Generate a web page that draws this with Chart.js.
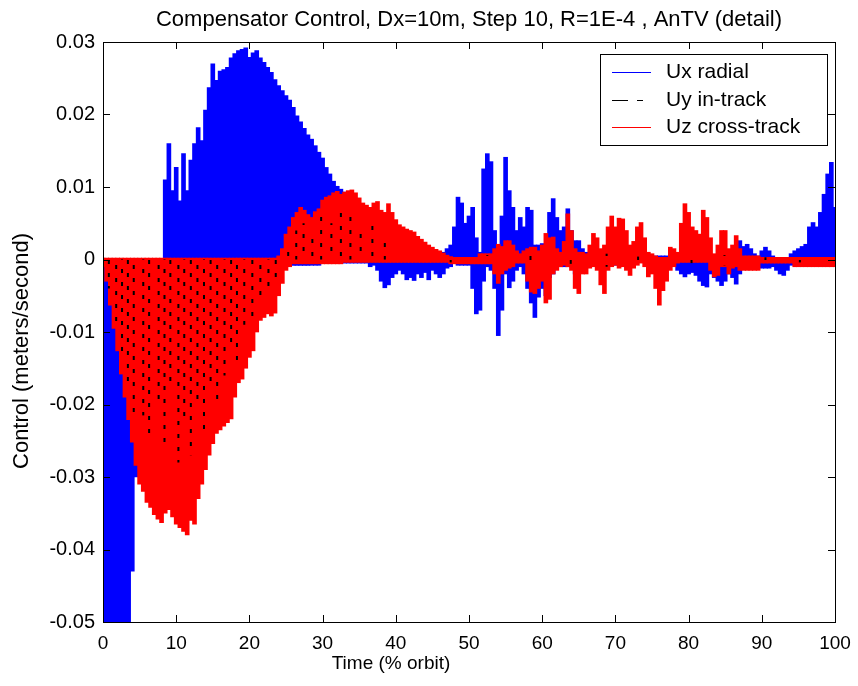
<!DOCTYPE html>
<html>
<head>
<meta charset="utf-8">
<title>Compensator Control</title>
<script src="https://cdn.jsdelivr.net/npm/chart.js@4.4.0/dist/chart.umd.min.js"></script>
<style>
  html, body { margin: 0; padding: 0; background: #fff; }
  #wrap { width: 858px; height: 686px; }
</style>
</head>
<body>
<div id="wrap"><canvas id="chart" width="858" height="686"></canvas></div>
<script>
// sample times, % orbit (one band every 0.5 %)
var times = [
  0, 0.5, 1, 1.5, 2, 2.5, 3, 3.5, 4, 4.5,
  5, 5.5, 6, 6.5, 7, 7.5, 8, 8.5, 9, 9.5,
  10, 10.5, 11, 11.5, 12, 12.5, 13, 13.5, 14, 14.5,
  15, 15.5, 16, 16.5, 17, 17.5, 18, 18.5, 19, 19.5,
  20, 20.5, 21, 21.5, 22, 22.5, 23, 23.5, 24, 24.5,
  25, 25.5, 26, 26.5, 27, 27.5, 28, 28.5, 29, 29.5,
  30, 30.5, 31, 31.5, 32, 32.5, 33, 33.5, 34, 34.5,
  35, 35.5, 36, 36.5, 37, 37.5, 38, 38.5, 39, 39.5,
  40, 40.5, 41, 41.5, 42, 42.5, 43, 43.5, 44, 44.5,
  45, 45.5, 46, 46.5, 47, 47.5, 48, 48.5, 49, 49.5,
  50, 50.5, 51, 51.5, 52, 52.5, 53, 53.5, 54, 54.5,
  55, 55.5, 56, 56.5, 57, 57.5, 58, 58.5, 59, 59.5,
  60, 60.5, 61, 61.5, 62, 62.5, 63, 63.5, 64, 64.5,
  65, 65.5, 66, 66.5, 67, 67.5, 68, 68.5, 69, 69.5,
  70, 70.5, 71, 71.5, 72, 72.5, 73, 73.5, 74, 74.5,
  75, 75.5, 76, 76.5, 77, 77.5, 78, 78.5, 79, 79.5,
  80, 80.5, 81, 81.5, 82, 82.5, 83, 83.5, 84, 84.5,
  85, 85.5, 86, 86.5, 87, 87.5, 88, 88.5, 89, 89.5,
  90, 90.5, 91, 91.5, 92, 92.5, 93, 93.5, 94, 94.5,
  95, 95.5, 96, 96.5, 97, 97.5, 98, 98.5, 99, 99.5,
  100
];

// Ux radial: upper / lower envelope of the oscillation (m/s)
var uxHi = [
  0, 0, 0, 0, 0, 0, 0, 0, 0, 0,
  0, 0, 0, 0, 0, 0, 0, 0.011, 0.016, 0.0095,
  0.0127, 0.0081, 0.0146, 0.0095, 0.0137, 0.016, 0.0182, 0.0164, 0.0206, 0.0237,
  0.027, 0.0247, 0.026, 0.0262, 0.0265, 0.0278, 0.0284, 0.0288, 0.029, 0.0292,
  0.0279, 0.0285, 0.0288, 0.0278, 0.0272, 0.0265, 0.0258, 0.0248, 0.024, 0.0233,
  0.0226, 0.022, 0.021, 0.0198, 0.019, 0.0181, 0.0172, 0.0166, 0.0157, 0.0148,
  0.014, 0.0127, 0.0118, 0.0108, 0.0101, 0.0097, 0.0093, 0.0085, 0.0075, 0.006,
  0.005, 0.004, 0.0035, 0.003, 0.0025, 0.002, 0.0015, 0.001, 0.0003, 0.0003,
  0.0003, 0.0003, 0.0003, 0.0003, 0.0003, 0.0003, 0.0003, 0.0003, 0.0003, 0.0003,
  0.0003, 0.0003, 0.0005, 0.001, 0.0015, 0.002, 0.0045, 0.0086, 0.0078, 0.005,
  0.006, 0.0072, 0.003, 0.001, 0.0125, 0.0146, 0.0135, 0.004, 0.002, 0.006,
  0.0141, 0.0095, 0.0072, 0.004, 0.0058, 0.0045, 0.0072, 0.0068, 0.002, 0.002,
  0.0022, 0.002, 0.0065, 0.0084, 0.0058, 0.004, 0.0045, 0.007, 0.004, 0.0026,
  0.0026, 0.0015, 0.001, 0.001, 0.0012, 0.0008, 0.0005, 0.0005, 0.0005, 0.0005,
  0.0005, 0.0003, 0.0003, 0.0003, 0.0003, 0.0003, 0.0003, 0.0003, 0.0003, 0.0003,
  0.0003, 0.0005, 0.0005, 0.0005, 0.0005, 0.0005, 0.0005, 0.0002, 0.0002, 0.0002,
  0.0002, 0.0002, 0.0002, 0.0002, 0.0002, 0.0002, 0.0002, 0.0002, 0.0002, 0.0002,
  0.0002, 0.0002, 0.0002, 0.0002, 0.0026, 0.0018, 0.0021, 0.0015, 0.0008, 0.0005,
  0.0012, 0.0017, 0.0012, 0.0005, 0.0003, 0.0003, 0.0003, 0.0003, 0.0008, 0.0012,
  0.0015, 0.0018, 0.0021, 0.0045, 0.0051, 0.0045, 0.0065, 0.009, 0.0118, 0.0134,
  0.0072
];
var uxLo = [
  -0.06, -0.06, -0.06, -0.06, -0.06, -0.06, -0.06, -0.06, -0.043, -0.03,
  -0.022, -0.02, -0.02, -0.018, -0.02, -0.018, -0.016, -0.015, -0.015, -0.014,
  -0.014, -0.013, -0.012, -0.012, -0.011, -0.01, -0.01, -0.009, -0.009, -0.008,
  -0.008, -0.007, -0.007, -0.006, -0.006, -0.005, -0.005, -0.005, -0.004, -0.004,
  -0.004, -0.003, -0.003, -0.003, -0.003, -0.003, -0.003, -0.003, -0.002, -0.001,
  -0.0008, -0.0008, -0.0008, -0.0008, -0.0008, -0.0008, -0.0008, -0.0008, -0.0008, -0.0008,
  -0.0005, -0.0005, -0.0005, -0.0005, -0.0005, -0.0005, -0.0005, -0.0005, -0.0005, -0.0005,
  -0.0005, -0.0005, -0.0005, -0.001, -0.0008, -0.0015, -0.003, -0.0039, -0.0035, -0.0025,
  -0.002, -0.0015, -0.002, -0.0028, -0.0025, -0.0029, -0.002, -0.0025, -0.0018, -0.0028,
  -0.0015, -0.002, -0.0025, -0.002, -0.0012, -0.001, -0.0005, -0.0008, -0.0008, -0.0008,
  -0.0008, -0.004, -0.0075, -0.007, -0.003, -0.001, -0.0015, -0.004, -0.0105, -0.007,
  -0.002, -0.0039, -0.003, -0.0015, -0.001, -0.002, -0.004, -0.006, -0.008, -0.0052,
  -0.004, -0.005, -0.0025, -0.002, -0.001, -0.001, -0.001, -0.001, -0.001, -0.002,
  -0.0015, -0.0008, -0.0008, -0.0008, -0.0008, -0.0008, -0.0008, -0.0008, -0.0008, -0.0008,
  -0.0008, -0.0004, -0.0004, -0.0004, -0.0004, -0.0004, -0.0004, -0.0004, -0.0004, -0.0004,
  -0.0004, -0.0004, -0.0004, -0.0004, -0.0004, -0.0004, -0.0004, -0.0015, -0.002, -0.0024,
  -0.002, -0.0018, -0.0022, -0.003, -0.0036, -0.0038, -0.002, -0.0025, -0.003, -0.0036,
  -0.003, -0.002, -0.0025, -0.0034, -0.002, -0.0012, -0.001, -0.001, -0.001, -0.0008,
  -0.0012, -0.0012, -0.0012, -0.001, -0.0015, -0.002, -0.0022, -0.0015, -0.0008, -0.0004,
  -0.0004, -0.0004, -0.0004, -0.0004, -0.0004, -0.0004, -0.0004, -0.0004, -0.0004, -0.0004,
  -0.0004
];

// Uz cross-track envelope
var uzHi = [
  0.0002, 0.0002, 0.0002, 0.0002, 0.0002, 0.0002, 0.0002, 0.0002, 0.0002, 0.0002,
  0.0002, 0.0002, 0.0002, 0.0002, 0.0002, 0.0002, 0.0002, 0.0002, 0.0002, 0.0002,
  0.0002, 0.0002, 0.0002, 0.0002, 0.0002, 0.0002, 0.0002, 0.0002, 0.0002, 0.0002,
  0.0002, 0.0002, 0.0002, 0.0002, 0.0002, 0.0002, 0.0002, 0.0002, 0.0002, 0.0002,
  0.0002, 0.0002, 0.0002, 0.0002, 0.0002, 0.0002, 0.0002, 0.0002, 0.0005, 0.0015,
  0.0035, 0.0045, 0.0058, 0.0065, 0.0072, 0.0068, 0.0062, 0.0058, 0.0066, 0.007,
  0.0082, 0.0086, 0.0088, 0.0092, 0.0094, 0.009, 0.0093, 0.0095, 0.0096, 0.0092,
  0.0085, 0.0078, 0.0075, 0.0072, 0.0078, 0.008, 0.0068, 0.0065, 0.0077, 0.0065,
  0.0055, 0.0048, 0.0045, 0.0042, 0.004, 0.0038, 0.0032, 0.0028, 0.0024, 0.002,
  0.0017, 0.0014, 0.0012, 0.0009, 0.0006, 0.0004, 0.0003, 0.0003, 0.0003, 0.0003,
  0.0003, 0.0003, 0.0003, 0.0008, 0.0008, 0.0008, 0.0008, 0.0015, 0.0021, 0.0018,
  0.0026, 0.0026, 0.002, 0.0012, 0.0008, 0.0012, 0.0015, 0.0017, 0.0017, 0.0012,
  0.002, 0.0036, 0.003, 0.0031, 0.0015, 0.001, 0.0025, 0.0063, 0.004, 0.0015,
  0.001, 0.001, 0.0008, 0.002, 0.0036, 0.003, 0.0015, 0.002, 0.0045, 0.006,
  0.0045, 0.0057, 0.0056, 0.004, 0.002, 0.0025, 0.0045, 0.0051, 0.003, 0.001,
  0.0008, 0.0005, 0.0003, 0.0003, 0.0003, 0.0017, 0.0015, 0.001, 0.005, 0.0077,
  0.0065, 0.0045, 0.004, 0.0035, 0.0068, 0.0058, 0.003, 0.0008, 0.002, 0.004,
  0.004, 0.0015, 0.002, 0.0033, 0.0015, 0.0005, 0.0005, 0.0005, 0.0005, 0.0005,
  0.0003, 0.0003, 0.0003, 0.0003, 0.0003, 0.0003, 0.0003, 0.0003, 0.0003, 0.0003,
  0.0003, 0.0003, 0.0003, 0.0003, 0.0003, 0.0003, 0.0003, 0.0003, 0.0003, 0.0003,
  0.0003
];
var uzLo = [
  -0.001, -0.003, -0.0063, -0.0095, -0.0126, -0.0158, -0.019, -0.0221, -0.0252, -0.0284,
  -0.031, -0.032, -0.0335, -0.0342, -0.0352, -0.0358, -0.0363, -0.035, -0.0345, -0.0355,
  -0.0365, -0.037, -0.0375, -0.038, -0.036, -0.0365, -0.033, -0.031, -0.029, -0.027,
  -0.0254, -0.024, -0.0235, -0.023, -0.0225, -0.022, -0.019, -0.017, -0.0165, -0.015,
  -0.0135, -0.0126, -0.01, -0.0084, -0.008, -0.0075, -0.0078, -0.0074, -0.005, -0.0033,
  -0.0015, -0.001, -0.0006, -0.0006, -0.0006, -0.0006, -0.0006, -0.0006, -0.0006, -0.0006,
  -0.0006, -0.0006, -0.0006, -0.0006, -0.0006, -0.0006, -0.0004, -0.0004, -0.0004, -0.0004,
  -0.0004, -0.0004, -0.0004, -0.0004, -0.0004, -0.0004, -0.0004, -0.0004, -0.0004, -0.0004,
  -0.0004, -0.0004, -0.0004, -0.0004, -0.0004, -0.0004, -0.0004, -0.0004, -0.0004, -0.0004,
  -0.0004, -0.0004, -0.0004, -0.0004, -0.0004, -0.0006, -0.0006, -0.0006, -0.0006, -0.0006,
  -0.0006, -0.0006, -0.0006, -0.0006, -0.0006, -0.0006, -0.0006, -0.002, -0.0033, -0.002,
  -0.0015, -0.0012, -0.001, -0.0005, -0.0005, -0.0005, -0.003, -0.0045, -0.0047, -0.004,
  -0.003, -0.006, -0.0055, -0.002, -0.0015, -0.001, -0.0008, -0.001, -0.0015, -0.004,
  -0.0047, -0.002, -0.002, -0.0012, -0.001, -0.0015, -0.0035, -0.0047, -0.0015, -0.001,
  -0.0008, -0.0012, -0.001, -0.0015, -0.0022, -0.0012, -0.0008, -0.0005, -0.001, -0.0024,
  -0.002, -0.004, -0.0063, -0.0043, -0.003, -0.0015, -0.001, -0.0005, -0.0004, -0.0004,
  -0.0004, -0.0004, -0.0004, -0.0004, -0.0004, -0.0004, -0.0015, -0.0024, -0.0022, -0.001,
  -0.001, -0.002, -0.0012, -0.001, -0.0015, -0.0015, -0.0015, -0.0015, -0.0015, -0.0015,
  -0.0005, -0.0005, -0.0005, -0.0005, -0.0005, -0.0005, -0.0005, -0.0005, -0.0005, -0.001,
  -0.001, -0.001, -0.001, -0.001, -0.001, -0.001, -0.001, -0.001, -0.001, -0.001,
  -0.001
];

// Uy in-track: only the strokes that show through the red
var uyTimes = [
  0.8, 1.8, 2.6, 3.4, 4.2, 5.5, 6.3, 7.6, 8.4, 9.2,
  10.3, 11.1, 12.0, 12.9, 13.8, 14.7, 15.6, 16.6, 17.5, 18.3,
  19.3, 20.4, 21.5, 22.6, 23.6, 25.3, 26.4, 27.4, 28.6, 29.8,
  31.2, 32.5, 33.8, 35.2, 36.8, 38.5, 47.5, 52.5, 58.4, 63.9,
  68.8, 73.1, 80.4, 84.9, 90.5, 95.2, 99.5
];
var uyLo = [
  -0.004, -0.009, -0.013, -0.017, -0.022, -0.0215, -0.024, -0.02, -0.026, -0.018,
  -0.028, -0.022, -0.027, -0.02, -0.024, -0.017, -0.02, -0.016, -0.012, -0.014,
  -0.009, -0.008, -0.005, -0.004, -0.003, 0, 0, 0, 0, 0,
  0, 0, 0, 0, 0, 0, -0.0004, -0.0005, -0.001, -0.0006,
  -0.001, -0.0004, -0.0005, -0.0008, -0.0003, -0.0004, -0.0005
];
var uyHi = [
  0, 0, 0, 0, 0, 0, 0, 0, 0, 0,
  0, 0, 0, 0, 0, 0, 0, 0, 0, 0,
  0, 0, 0, 0, 0, 0.002, 0.004, 0.005, 0.0035, 0.006,
  0.005, 0.0065, 0.006, 0.004, 0.005, 0.003, 0.0004, 0.0006, 0.0008, 0.0006,
  0.0008, 0.0004, 0.0006, 0.0006, 0.0003, 0.0003, 0.0003
];

var seriesNames = ["Ux radial", "Uy in-track", "Uz cross-track"];
var seriesColors = ["#0000ff", "#000000", "#ff0000"];
var titleText = "Compensator Control, Dx=10m, Step 10, R=1E-4 , AnTV (detail)";
var xLabel = "Time (% orbit)";
var yLabel = "Control (meters/second)";

var FONT = "'Liberation Sans', Arial, sans-serif";

function band(ts, lo, hi) {
  return ts.map(function (t, i) {
    return { x: t, y: [lo[i], hi[i]] };
  });
}

// vertical dash fill, to look like a dashed line swinging up and down
function dashPattern(color, shift) {
  var c = document.createElement("canvas");
  c.width = 2;
  c.height = 13;
  var g = c.getContext("2d");
  g.fillStyle = color;
  g.fillRect(0, shift, 2, 4);
  return g.createPattern(c, "repeat");
}
var uyFills = [dashPattern("#000", 0), dashPattern("#000", 5), dashPattern("#000", 9)];

var textPlugin = {
  id: "texts",
  afterDraw: function (chart) {
    var a = chart.chartArea;
    var ctx = chart.ctx;
    ctx.save();
    ctx.fillStyle = "#000";
    ctx.textAlign = "center";
    ctx.textBaseline = "middle";
    ctx.font = "22px " + FONT;
    ctx.fillText(titleText, (a.left + a.right) / 2, 20);
    ctx.font = "19px " + FONT;
    ctx.fillText(xLabel, 391, 664);
    ctx.translate(22, 351);
    ctx.rotate(-Math.PI / 2);
    ctx.font = "22px " + FONT;
    ctx.fillText(yLabel, 0, 0);
    ctx.restore();
  }
};

var framePlugin = {
  id: "frame",
  afterDatasetsDraw: function (chart) {
    var a = chart.chartArea;
    var ctx = chart.ctx;
    var xs = chart.scales.x;
    var ys = chart.scales.y;
    var L = 7;
    ctx.save();
    ctx.strokeStyle = "#000";
    ctx.lineWidth = 1;
    ctx.beginPath();
    xs.ticks.forEach(function (t) {
      var px = Math.round(xs.getPixelForValue(t.value)) + 0.5;
      ctx.moveTo(px, a.bottom);
      ctx.lineTo(px, a.bottom - L);
      ctx.moveTo(px, a.top);
      ctx.lineTo(px, a.top + L);
    });
    ys.ticks.forEach(function (t) {
      var py = Math.round(ys.getPixelForValue(t.value)) + 0.5;
      ctx.moveTo(a.left, py);
      ctx.lineTo(a.left + L, py);
      ctx.moveTo(a.right, py);
      ctx.lineTo(a.right - L, py);
    });
    ctx.stroke();
    ctx.strokeRect(Math.round(a.left) + 0.5, Math.round(a.top) + 0.5,
      Math.round(a.right - a.left), Math.round(a.bottom - a.top));
    ctx.restore();
  }
};

var legendPlugin = {
  id: "boxLegend",
  afterDraw: function (chart) {
    var a = chart.chartArea;
    var ctx = chart.ctx;
    var w = 227, h = 91;
    var x0 = Math.round(a.right) - 8 - w;
    var y0 = Math.round(a.top) + 12;
    var rows = [18, 46, 73];
    ctx.save();
    ctx.fillStyle = "#fff";
    ctx.fillRect(x0, y0, w, h);
    ctx.strokeStyle = "#000";
    ctx.lineWidth = 1;
    ctx.strokeRect(x0 + 0.5, y0 + 0.5, w, h);
    ctx.font = "21px " + FONT;
    ctx.textBaseline = "middle";
    ctx.textAlign = "left";
    for (var i = 0; i < 3; i++) {
      var y = y0 + rows[i] + 0.5;
      ctx.strokeStyle = seriesColors[i];
      ctx.setLineDash(i === 1 ? [16, 9] : []);
      ctx.beginPath();
      ctx.moveTo(x0 + 12, y);
      ctx.lineTo(x0 + (i === 1 ? 43 : 51), y);
      ctx.stroke();
      ctx.fillStyle = "#000";
      ctx.fillText(seriesNames[i], x0 + 66, y0 + rows[i]);
    }
    ctx.restore();
  }
};

Chart.defaults.font.family = FONT;
Chart.defaults.color = "#000";

new Chart(document.getElementById("chart"), {
  type: "bar",
  data: {
    datasets: [
      {
        label: seriesNames[0],
        data: band(times, uxLo, uxHi),
        backgroundColor: seriesColors[0],
        barThickness: 4,
        grouped: false,
        borderWidth: 0,
        clip: 0,
        order: 3
      },
      {
        label: seriesNames[1],
        data: band(uyTimes, uyLo, uyHi),
        xAxisID: "x2",
        backgroundColor: uyTimes.map(function (t, i) { return uyFills[i % 3]; }),
        maxBarThickness: 2,
        grouped: false,
        borderWidth: 0,
        clip: 0,
        order: 1
      },
      {
        label: seriesNames[2],
        data: band(times, uzLo, uzHi),
        backgroundColor: seriesColors[2],
        barThickness: 4,
        grouped: false,
        borderWidth: 0,
        clip: 0,
        order: 2
      }
    ]
  },
  options: {
    responsive: false,
    animation: false,
    devicePixelRatio: 1,
    events: [],
    layout: { padding: { left: 0, right: 23, top: 42, bottom: 0 } },
    plugins: {
      legend: { display: false },
      tooltip: { enabled: false },
      title: { display: false }
    },
    scales: {
      x: {
        type: "linear",
        min: 0,
        max: 100,
        offset: false,
        grid: { display: false, drawTicks: false },
        border: { display: false },
        ticks: { stepSize: 10, autoSkip: false, maxRotation: 0, padding: 10, font: { size: 19 } },
        afterFit: function (scale) {
          scale.height = 64;
          scale.paddingLeft = 0;
          scale.paddingRight = 0;
        }
      },
      x2: {
        type: "linear",
        min: 0,
        max: 100,
        offset: false,
        display: false
      },
      y: {
        min: -0.05,
        max: 0.03,
        grid: { display: false, drawTicks: false },
        border: { display: false },
        ticks: {
          stepSize: 0.01,
          padding: 8,
          font: { size: 20 },
          callback: function (v) { return String(Math.round(v * 100) / 100); }
        },
        afterFit: function (scale) { scale.width = 103; }
      }
    }
  },
  plugins: [framePlugin, legendPlugin, textPlugin]
});
</script>
</body>
</html>
